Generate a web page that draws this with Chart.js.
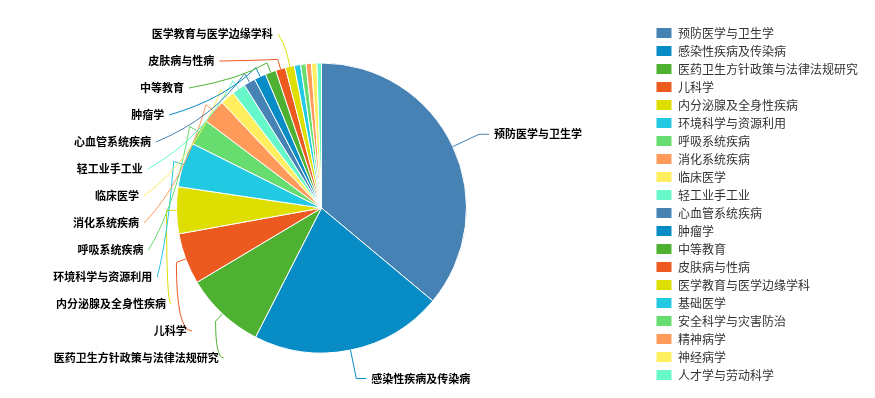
<!DOCTYPE html>
<html>
<head>
<meta charset="utf-8">
<script src="https://cdn.jsdelivr.net/npm/chart.js@4.4.1/dist/chart.umd.min.js"></script>
<style>
  html, body { margin: 0; padding: 0; background: #ffffff; }
  #wrap { width: 875px; height: 398px; position: relative; }
</style>
</head>
<body>
<div id="wrap"><canvas id="pie" width="875" height="398"></canvas></div>
<script>
// Subject categories, largest first
const categories = [
  '预防医学与卫生学', '感染性疾病及传染病', '医药卫生方针政策与法律法规研究', '儿科学',
  '内分泌腺及全身性疾病', '环境科学与资源利用', '呼吸系统疾病', '消化系统疾病',
  '临床医学', '轻工业手工业', '心血管系统疾病', '肿瘤学', '中等教育', '皮肤病与性病',
  '医学教育与医学边缘学科', '基础医学', '安全科学与灾害防治', '精神病学', '神经病学',
  '人才学与劳动科学'
];

// Number of documents in each category
const counts = [360, 214, 89, 57, 52, 50, 29, 27, 16, 15, 13, 13, 12, 11, 10, 7, 6, 6, 6, 5];

// Ten-colour cycle used for slices and legend swatches
const palette = ['#4682b4', '#078cc6', '#4fb132', '#ec5a1f', '#dede00',
                 '#22c9e3', '#66dd6e', '#ff9a5a', '#ffee5e', '#66f8c8'];
const sliceColors = categories.map((_, i) => palette[i % palette.length]);

// Let the plot area reach a little further left than the layout gives it
const plotAreaExtend = {
  id: 'plotAreaExtend',
  afterLayout(chart, args, o) {
    chart.chartArea.left -= o.left;
    chart.chartArea.width += o.left;
  }
};

// Outside labels with leader lines; labels on one side are stacked so they never overlap
const calloutLabels = {
  id: 'calloutLabels',
  afterDraw(chart, args, o) {
    const meta = chart.getDatasetMeta(0);
    const values = chart.data.datasets[0].data;
    const total = values.reduce((a, b) => a + b, 0);
    const ctx = chart.ctx;
    const items = [];
    meta.data.forEach((arc, i) => {
      if (values[i] / total < o.minShare) return;
      const p = arc.getProps(['x', 'y', 'startAngle', 'endAngle', 'outerRadius'], true);
      const mid = (p.startAngle + p.endAngle) / 2;
      const c = Math.cos(mid), s = Math.sin(mid);
      const rA = p.outerRadius + o.length;
      items.push({ i, cx: p.x, cy: p.y, R: p.outerRadius, c, s, side: c >= 0 ? 1 : -1,
                   rA, natY: p.y + rA * s, y: p.y + rA * s });
    });

    [1, -1].forEach(side => {
      const list = items.filter(t => t.side === side).sort((a, b) => a.natY - b.natY);
      if (!list.length) return;
      for (let k = 1; k < list.length; k++) list[k].y = Math.max(list[k].y, list[k - 1].y + o.spacing);
      const last = list[list.length - 1];
      const bottom = chart.height - o.bottomGap;
      // a stacked column that runs too low is pulled back up as a block
      if (last.y > last.natY + 0.5 && last.y > bottom) {
        last.y = bottom;
        for (let k = list.length - 2; k >= 0; k--) list[k].y = Math.min(list[k].y, list[k + 1].y - o.spacing);
      }
      if (list[0].y < o.topGap) {
        list[0].y = o.topGap;
        for (let k = 1; k < list.length; k++) list[k].y = Math.max(list[k].y, list[k - 1].y + o.spacing);
      }
    });

    ctx.save();
    ctx.lineWidth = 1;
    ctx.font = o.font;
    ctx.textBaseline = 'middle';
    items.forEach(t => {
      const moved = Math.abs(t.y - t.natY) > 0.5;
      const p0 = { x: t.cx + t.R * t.c, y: t.cy + t.R * t.s };
      ctx.strokeStyle = sliceColors[t.i];
      ctx.beginPath();
      ctx.moveTo(p0.x, p0.y);
      let end;
      if (!moved) {
        const p1 = { x: t.cx + t.rA * t.c, y: t.cy + t.rA * t.s };
        end = { x: p1.x + t.side * o.length2, y: p1.y };
        ctx.lineTo(p1.x, p1.y);
        ctx.lineTo(end.x, end.y);
      } else {
        const rk = t.R + o.knee;
        const p1 = { x: t.cx + rk * t.c, y: t.cy + rk * t.s };
        // restacked label ends sit on an ellipse around the pie
        const rX = t.rA + o.ring, rY = rX + o.ringStretch;
        const dy = t.y - t.cy;
        end = { x: t.cx + t.side * rX * Math.sqrt(Math.max(0, 1 - (dy * dy) / (rY * rY))), y: t.y };
        ctx.lineTo(p1.x, p1.y);
        if ((end.x - p1.x) * t.side < 0) {
          // end tucked back toward the pie: run vertically first, then across
          ctx.quadraticCurveTo(p1.x, end.y, end.x, end.y);
        } else {
          const mx = p1.x + (end.x - p1.x) * 0.35, my = p1.y + (end.y - p1.y) * 0.65;
          ctx.quadraticCurveTo(mx, my, end.x, end.y);
        }
      }
      ctx.stroke();
      ctx.fillStyle = o.color;
      ctx.textAlign = t.side > 0 ? 'left' : 'right';
      ctx.fillText(categories[t.i], end.x + t.side * o.gap, end.y);
    });
    ctx.restore();
  }
};

new Chart(document.getElementById('pie'), {
  type: 'pie',
  data: {
    labels: categories,
    datasets: [{
      data: counts,
      backgroundColor: sliceColors,
      borderColor: '#ffffff',
      borderWidth: 1,
      radius: 145
    }]
  },
  options: {
    responsive: false,
    animation: false,
    devicePixelRatio: 1,
    layout: { padding: { top: 21, bottom: 3, left: 0, right: 7 } },
    plugins: {
      tooltip: { enabled: false },
      legend: {
        position: 'right',
        align: 'start',
        labels: {
          boxWidth: 16,
          boxHeight: 11,
          padding: 6,
          color: '#333333',
          font: { family: '"Noto Sans CJK SC", "Noto Sans", sans-serif', size: 12 }
        }
      },
      plotAreaExtend: { left: 7 },
      calloutLabels: {
        minShare: 0.01,
        length: 29,
        length2: 10,
        knee: 10,
        ring: 4,
        ringStretch: 1.5,
        gap: 5,
        spacing: 27,
        topGap: 20,
        bottomGap: 40,
        color: '#000000',
        font: 'bold 11px "Noto Sans CJK SC", sans-serif'
      }
    }
  },
  plugins: [plotAreaExtend, calloutLabels]
});
</script>
</body>
</html>
